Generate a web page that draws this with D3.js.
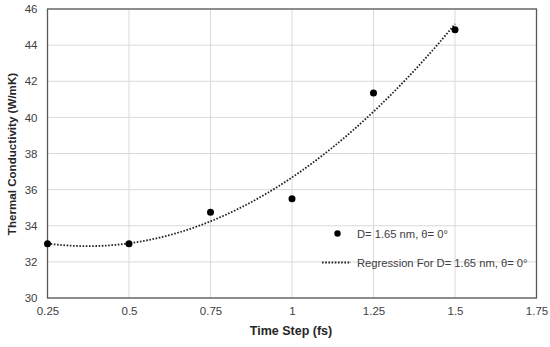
<!DOCTYPE html>
<html><head><meta charset="utf-8">
<script src="https://cdn.jsdelivr.net/npm/d3@7"></script>
<style>body{margin:0;background:#fff}svg{display:block}</style>
</head><body>
<script>
const timeStep = [0.25, 0.5, 0.75, 1.0, 1.25, 1.5];
const conductivity = [33.0, 33.0, 34.75, 35.5, 41.35, 44.85];
const xTicks = [0.25, 0.5, 0.75, 1, 1.25, 1.5, 1.75];
const yTicks = [30, 32, 34, 36, 38, 40, 42, 44, 46];
const seriesName = "D= 1.65 nm, θ= 0°";
const trendName = "Regression For D= 1.65 nm, θ= 0°";

const W = 550, H = 347;
const m = {left: 47.5, right: 550 - 536.5, top: 9, bottom: 347 - 298};
const svg = d3.select("body").append("svg").attr("width", W).attr("height", H);
const x = d3.scaleLinear().domain([0.25, 1.75]).range([m.left, W - m.right]);
const y = d3.scaleLinear().domain([30, 46]).range([H - m.bottom, m.top]);
const font = "Liberation Sans, Arial, sans-serif";

// gridlines
svg.append("g").selectAll("line").data(xTicks).join("line")
  .attr("x1", d => x(d)).attr("x2", d => x(d)).attr("y1", y(30)).attr("y2", y(46))
  .attr("stroke", "#d9d9d9").attr("stroke-width", 1);
svg.append("g").selectAll("line").data(yTicks).join("line")
  .attr("y1", d => y(d)).attr("y2", d => y(d)).attr("x1", x(0.25)).attr("x2", x(1.75))
  .attr("stroke", "#d9d9d9").attr("stroke-width", 1);

// border
svg.append("rect").attr("x", x(0.25)).attr("y", y(46))
  .attr("width", x(1.75) - x(0.25)).attr("height", y(30) - y(46))
  .attr("fill", "none").attr("stroke", "#595959").attr("stroke-width", 1.3);

// axes (labels only)
const xAxis = svg.append("g").attr("transform", `translate(0,${y(30)})`)
  .call(d3.axisBottom(x).tickValues(xTicks).tickSize(0).tickPadding(9).tickFormat(d => String(d)));
xAxis.select(".domain").remove();
xAxis.selectAll("text").attr("font-family", font).attr("font-size", 11.5).attr("fill", "#404040");
const yAxis = svg.append("g").attr("transform", `translate(${x(0.25)},0)`)
  .call(d3.axisLeft(y).tickValues(yTicks).tickSize(0).tickPadding(10).tickFormat(d => String(d)));
yAxis.select(".domain").remove();
yAxis.selectAll("text").attr("font-family", font).attr("font-size", 11.5).attr("fill", "#404040");

// titles
svg.append("text").attr("x", 291).attr("y", 335).attr("text-anchor", "middle")
  .attr("font-family", font).attr("font-weight", "bold").attr("font-size", 12.5).attr("fill", "#262626")
  .text("Time Step (fs)");
svg.append("text").attr("transform", "translate(16,154) rotate(-90)").attr("text-anchor", "middle")
  .attr("font-family", font).attr("font-weight", "bold").attr("font-size", 11.6).attr("fill", "#262626")
  .text("Thermal Conductivity (W/mK)");

// regression (least squares quadratic fit of the data)
function quadFit(xs, ys) {
  let S = [0,0,0,0,0], T = [0,0,0];
  xs.forEach((xv, i) => {
    for (let k = 0; k < 5; k++) S[k] += Math.pow(xv, k);
    for (let k = 0; k < 3; k++) T[k] += Math.pow(xv, k) * ys[i];
  });
  const A = [[S[0],S[1],S[2],T[0]],[S[1],S[2],S[3],T[1]],[S[2],S[3],S[4],T[2]]];
  for (let i = 0; i < 3; i++) {
    for (let j = i + 1; j < 3; j++) {
      const f = A[j][i] / A[i][i];
      for (let k = i; k < 4; k++) A[j][k] -= f * A[i][k];
    }
  }
  const c = [0,0,0];
  for (let i = 2; i >= 0; i--) {
    let s = A[i][3];
    for (let k = i + 1; k < 3; k++) s -= A[i][k] * c[k];
    c[i] = s / A[i][i];
  }
  return c;
}
const coef = quadFit(timeStep, conductivity);
const xs = d3.range(0.25, 1.5001, 0.01);
const trend = xs.map(v => [v, coef[0] + coef[1]*v + coef[2]*v*v]);
svg.append("path").datum(trend)
  .attr("d", d3.line().x(d => x(d[0])).y(d => y(d[1])))
  .attr("fill", "none").attr("stroke", "#222").attr("stroke-width", 1.8)
  .attr("stroke-dasharray", "1.6,1.6");

// points
svg.append("g").selectAll("circle").data(timeStep).join("circle")
  .attr("cx", d => x(d)).attr("cy", (d, i) => y(conductivity[i])).attr("r", 3.5).attr("fill", "#000");

// legend
svg.append("circle").attr("cx", 337.5).attr("cy", 233.5).attr("r", 3.2).attr("fill", "#000");
svg.append("text").attr("x", 357).attr("y", 237.5).attr("font-family", font).attr("font-size", 11.2)
  .attr("fill", "#404040").text(seriesName);
svg.append("line").attr("x1", 322).attr("x2", 351).attr("y1", 262.5).attr("y2", 262.5)
  .attr("stroke", "#222").attr("stroke-width", 1.8).attr("stroke-dasharray", "1.6,1.6");
svg.append("text").attr("x", 357).attr("y", 266.5).attr("font-family", font).attr("font-size", 11.2)
  .attr("fill", "#404040").text(trendName);
</script>
</body></html>
